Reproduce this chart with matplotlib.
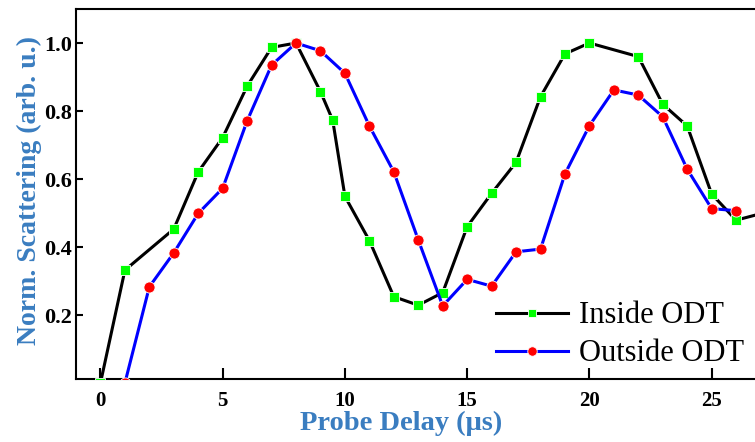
import matplotlib
matplotlib.use("Agg")
import matplotlib.pyplot as plt

# Inside ODT (black line, green squares)
inside_x = [0, 1, 3, 4, 5, 6, 7, 8, 9, 9.5, 10, 11, 12, 13, 14, 15, 16, 17, 18,
            19, 20, 22, 23, 24, 25, 26, 27]
inside_y = [0.0, 0.332, 0.453, 0.621, 0.722, 0.873, 0.987, 1.0, 0.857, 0.773,
            0.549, 0.419, 0.254, 0.229, 0.266, 0.46, 0.558, 0.649, 0.842,
            0.968, 1.0, 0.96, 0.82, 0.756, 0.556, 0.479, 0.498]

# Outside ODT (blue line, red circles)
outside_x = list(range(1, 27))
outside_y = [0.0, 0.283, 0.383, 0.499, 0.573, 0.771, 0.935, 1.0, 0.977, 0.911,
             0.756, 0.621, 0.421, 0.227, 0.305, 0.285, 0.386, 0.394, 0.615,
             0.757, 0.862, 0.847, 0.783, 0.629, 0.513, 0.507]

xticks = [0, 5, 10, 15, 20, 25]
yticks = [0.2, 0.4, 0.6, 0.8, 1.0]

label_color = "#3A7DC0"
serif = ["Liberation Serif", "DejaVu Serif"]

fig = plt.figure(figsize=(7.55, 4.42), dpi=100)
# axes run past the right edge of the figure, as in the reference
ax = fig.add_axes([76 / 755, 63 / 442, 709 / 755, 370 / 442])

ax.plot(inside_x, inside_y, color="black", lw=2.2, marker="s", ms=7,
        mfc="#00FF00", mec="white", mew=0.6, label="Inside ODT", zorder=3)
ax.plot(outside_x, outside_y, color="#0000FF", lw=2.2, marker="o", ms=8,
        mfc="#FF0000", mec="white", mew=0.6, label="Outside ODT", zorder=3)

ax.set_xlim(-1, 28)
ax.set_ylim(0.012, 1.1)
ax.set_xticks(xticks)
ax.set_yticks(yticks)
ax.set_xticklabels([str(t) for t in xticks], family=serif, weight="bold", fontsize=15)
ax.set_yticklabels([f"{t:.1f}" for t in yticks], family=serif, weight="bold", fontsize=16)
ax.tick_params(axis="x", direction="in", length=8, width=1.5, pad=9)
ax.tick_params(axis="y", direction="in", length=5, width=1.5, pad=3)
for s in ax.spines.values():
    s.set_linewidth(1.5)

ax.set_xlabel("Probe Delay (\u03bcs)", family=serif, weight="bold", fontsize=20.5,
              color=label_color)
ax.xaxis.set_label_coords(0.458, -0.085)
ax.set_ylabel("Norm. Scattering (arb. u.)", family=serif, weight="bold", fontsize=20,
              color=label_color)
ax.yaxis.set_label_coords(-0.048, 0.51)

leg = ax.legend(loc="upper left", bbox_to_anchor=(481 / 755, 1 - 286 / 442),
                bbox_transform=fig.transFigure, frameon=False, borderpad=0,
                handlelength=2.35, handletextpad=0.35, labelspacing=0.3,
                markerscale=0.85, prop={"family": serif, "size": 22})

fig.savefig("out.png", dpi=100)
